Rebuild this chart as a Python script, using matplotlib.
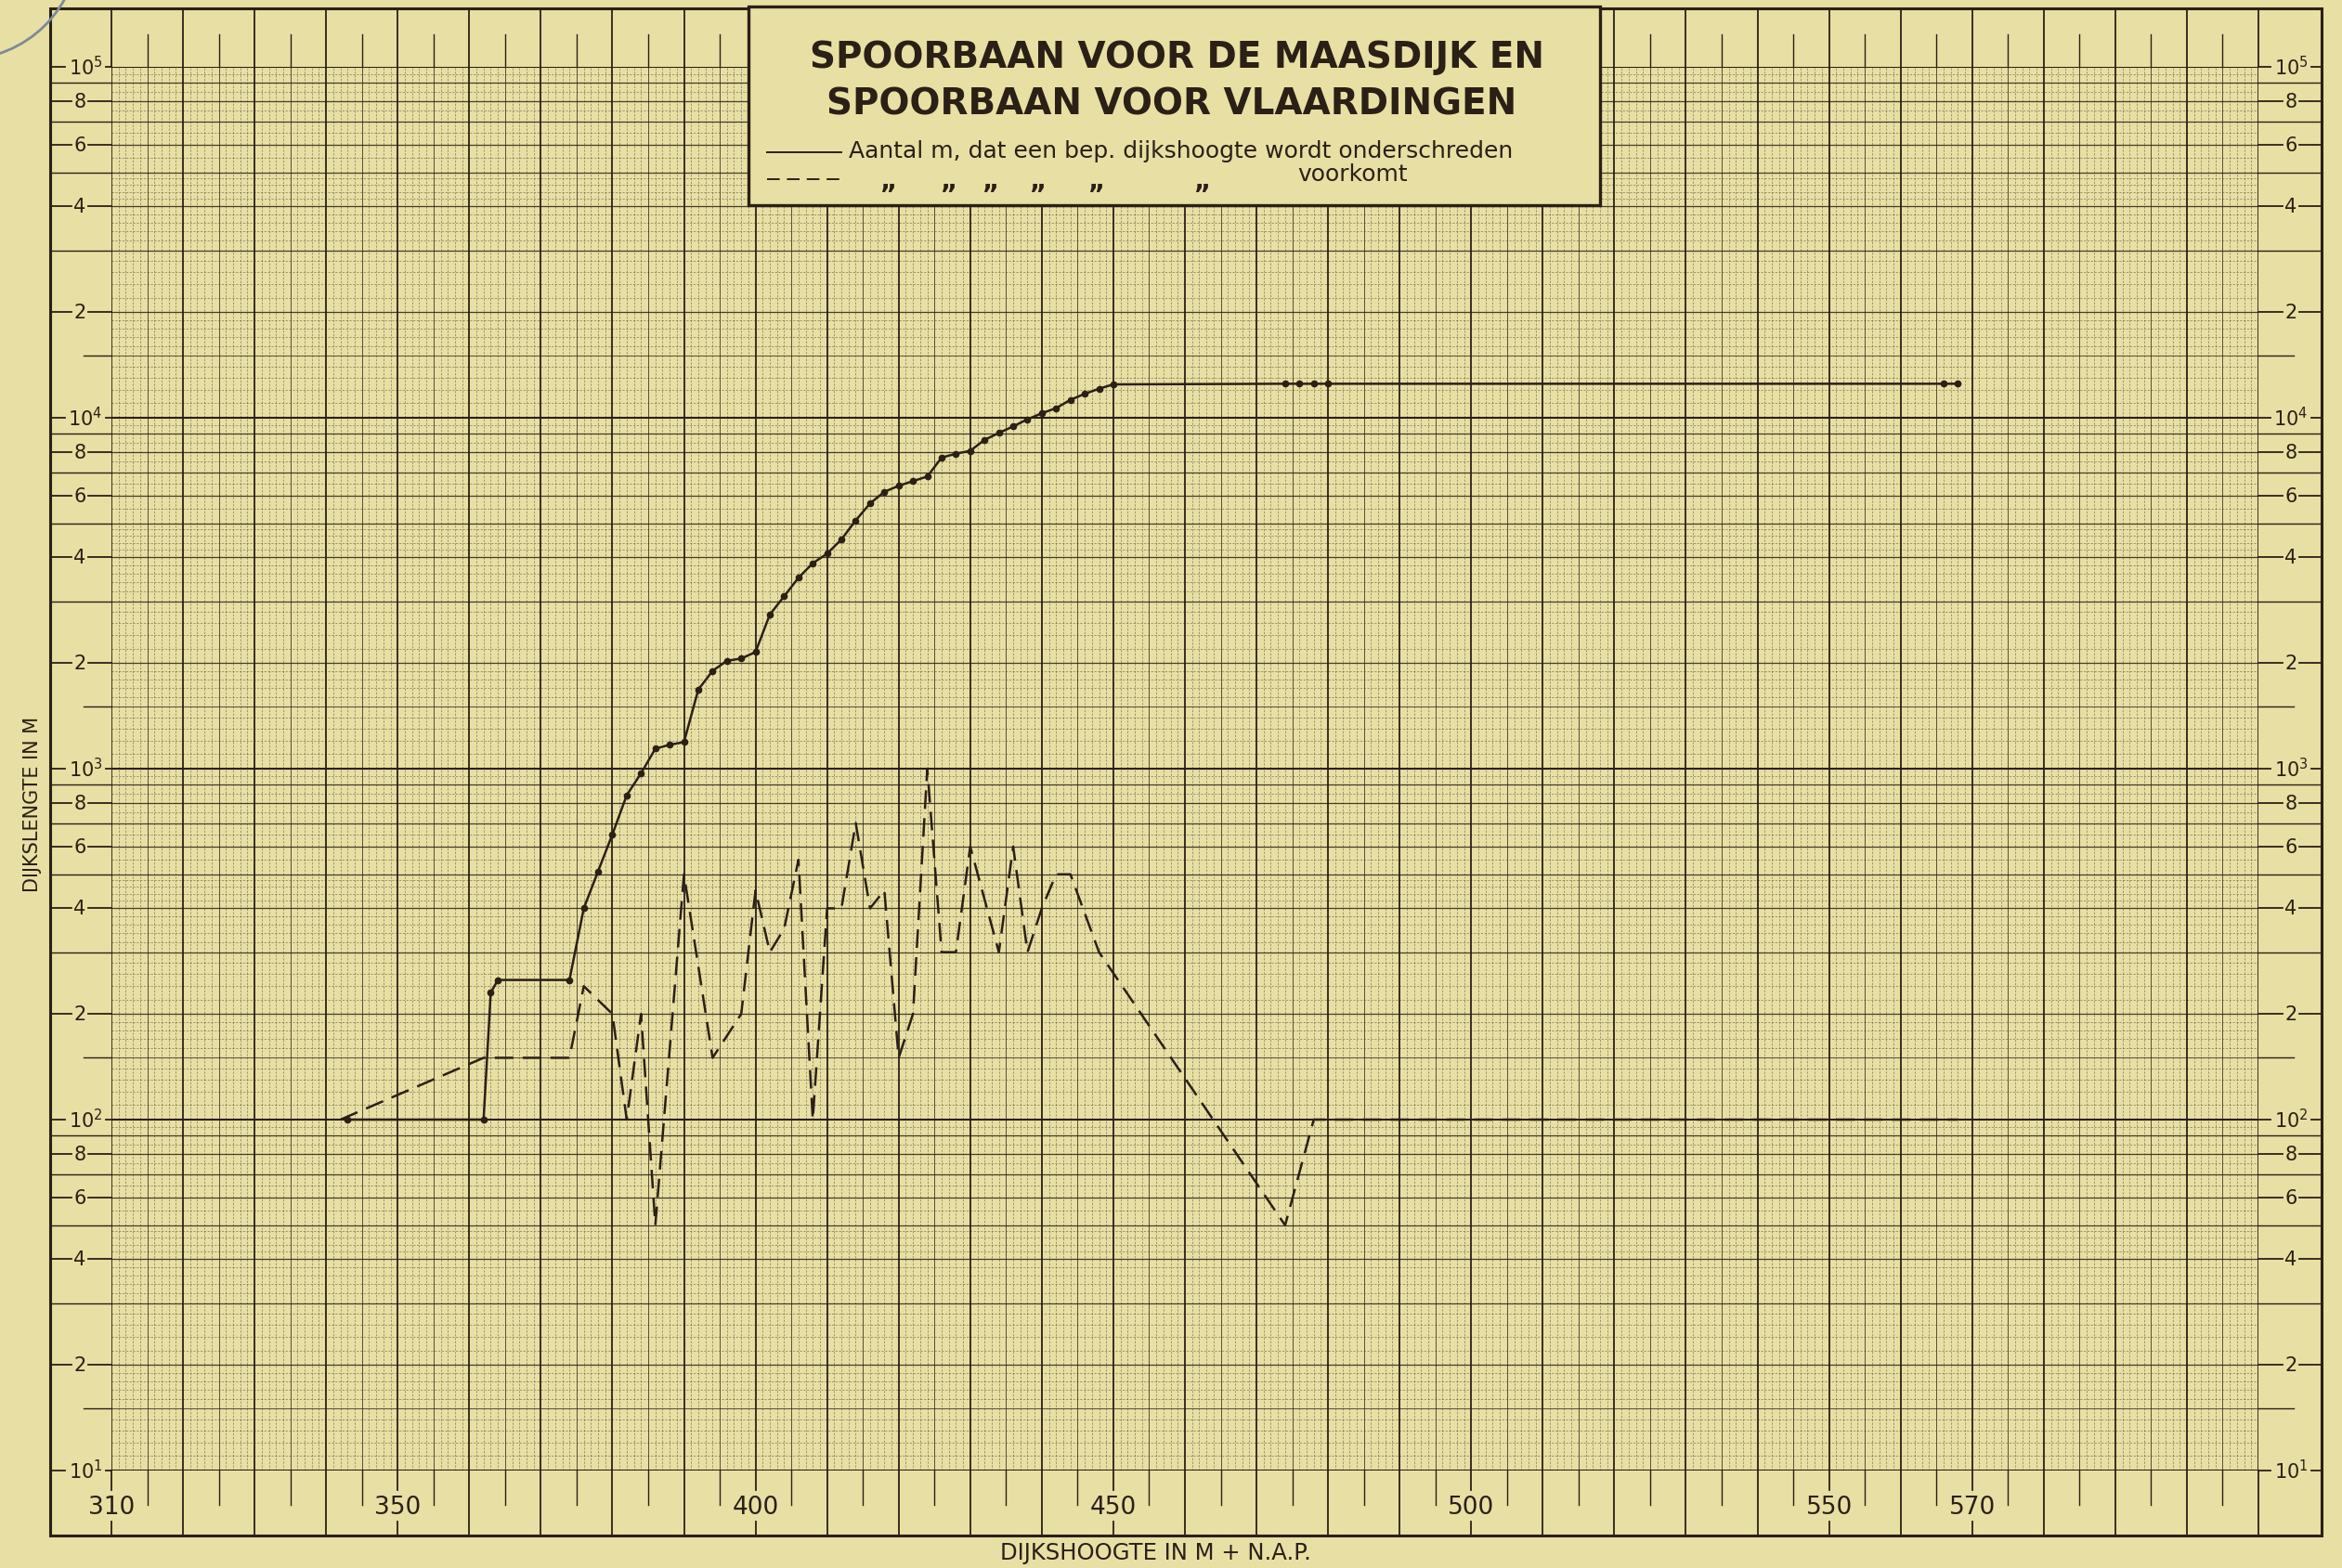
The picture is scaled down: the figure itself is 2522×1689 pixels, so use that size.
import numpy as np
import matplotlib
matplotlib.use("Agg")
import matplotlib.pyplot as plt
from matplotlib import font_manager
from matplotlib.patches import Rectangle, Arc
from matplotlib.lines import Line2D
from matplotlib.transforms import blended_transform_factory

W, H = 2522, 1690
DPI = 100

# --- values --------------------------------------------------------------
# solid: number of metres where a given dike height is not reached
cum_x = [343, 362, 363, 364, 374, 376, 378, 380, 382, 384, 386, 388, 390,
         392, 394, 396, 398, 400, 402, 404, 406, 408, 410, 412, 414, 416,
         418, 420, 422, 424, 426, 428, 430, 432, 434, 436, 438, 440, 442,
         444, 446, 448, 450, 474, 476, 478, 480, 566, 568]
cum_m = [100, 100, 230, 250, 250, 400, 510, 650, 840, 970, 1140, 1170, 1190,
         1680, 1900, 2030, 2060, 2150, 2750, 3100, 3500, 3850, 4100, 4500,
         5100, 5700, 6150, 6400, 6600, 6800, 7700, 7900, 8050, 8650, 9050,
         9450, 9900, 10300, 10650, 11250, 11700, 12100, 12450, 12500, 12500,
         12500, 12500, 12500, 12500]

# dashed: number of metres where a given dike height occurs
freq_x = [342, 362, 374, 376, 380, 382, 384, 386, 390, 394, 398, 400, 402,
          404, 406, 408, 410, 412, 414, 416, 418, 420, 422, 424, 426, 428,
          430, 434, 436, 438, 440, 442, 444, 448, 474, 478, 568]
freq_m = [100, 150, 150, 240, 200, 100, 200, 50, 500, 150, 200, 450, 300,
          350, 550, 100, 400, 400, 700, 400, 450, 150, 200, 1000, 300, 300,
          600, 300, 600, 300, 400, 500, 500, 300, 50, 100, 100]

x_labels = [310, 350, 400, 450, 500, 550, 570]
decades = [10, 100, 1000, 10000, 100000]
y_labelled = [2, 4, 6, 8]
y_plain = [3, 5, 7, 9]

PAPER = "#e8dfa4"
INK = "#2a2016"
GRID = "#3f3426"

names = {f.name for f in font_manager.fontManager.ttflist}
NARROW = "Liberation Sans Narrow" if "Liberation Sans Narrow" in names else "DejaVu Sans"
TITLE_SIZE = 34 if NARROW != "DejaVu Sans" else 28

fig = plt.figure(figsize=(W / DPI, H / DPI), dpi=DPI, facecolor=PAPER)

# grid area: 310 at x=120px, 610 at x=2432px, 1e5 at y=73px, 1e1 at y=1585px
ax = fig.add_axes([120 / W, 1 - 1585 / H, 2312 / W, 1512 / H])
ax.set_facecolor(PAPER)
ax.set_xlim(310, 610)
ax.set_yscale("log")
ax.set_ylim(10, 1e5)
ax.set_axis_off()

def px(X):
    return X / W

def py(Y):
    return 1 - Y / H

yb = blended_transform_factory(fig.transFigure, ax.transData)
xb = blended_transform_factory(ax.transData, fig.transFigure)

# --- graph paper ----------------------------------------------------------
for xv in range(310, 611):
    if xv % 10 == 0:
        ax.axvline(xv, color=INK, lw=1.3, zorder=2)
    elif xv % 5 == 0:
        ax.axvline(xv, color=GRID, lw=0.7, alpha=0.85, zorder=1)
    else:
        ax.axvline(xv, color=GRID, lw=0.55, alpha=0.55, ls=(0, (3, 2)), zorder=1)

for d in decades[:-1]:
    subs = list(np.arange(1.1, 2.0, 0.1)) + list(np.arange(2.2, 5.0, 0.2)) + \
        list(np.arange(5.5, 10.0, 0.5))
    for m in subs:
        if abs(m - round(m)) < 1e-6 or abs(m - 1.5) < 1e-6:
            continue
        ax.axhline(d * m, color=GRID, lw=0.55, alpha=0.55, ls=(0, (3, 2)), zorder=1)
    for m in [2, 3, 4, 5, 6, 7, 8, 9]:
        ax.axhline(d * m, color=INK, lw=0.9, alpha=0.85, zorder=2)
    ax.axhline(d * 1.5, color=INK, lw=0.8, alpha=0.7, zorder=2)
for d in decades:
    ax.axhline(d, color=INK, lw=1.5, zorder=2)

# outer frame of the sheet
fig.add_artist(Rectangle((px(54), py(1655)), px(2500) - px(54), py(10) - py(1655),
                         transform=fig.transFigure, fill=False, ec=INK, lw=2.2,
                         zorder=3))

def seg(x0, x1, y0, y1, tr, lw=1.3):
    ax.add_line(Line2D([x0, x1], [y0, y1], transform=tr, color=INK, lw=lw,
                       clip_on=False, zorder=3))

# left and right margins with the log scale
for d in decades:
    for m in [1, 1.5, 2, 3, 4, 5, 6, 7, 8, 9]:
        v = d * m
        if v > 1e5:
            continue
        if m == 1:
            for lo, hi, cx in [(54, 120, 92), (2432, 2500, 2467)]:
                seg(px(lo), px(cx - 22), v, v, yb)
                seg(px(cx + 22), px(hi), v, v, yb)
                ax.text(px(cx), v, r"$\mathregular{10^{%d}}$" % round(np.log10(v)),
                        transform=yb, ha="center", va="center", fontsize=15,
                        color=INK, family="DejaVu Sans")
        elif m in y_labelled:
            for lo, hi, cx in [(54, 120, 86), (2432, 2500, 2467)]:
                seg(px(lo), px(cx - 9), v, v, yb)
                seg(px(cx + 9), px(hi), v, v, yb)
                ax.text(px(cx), v, str(m), transform=yb, ha="center",
                        va="center", fontsize=15, color=INK, family="DejaVu Sans")
        elif m in y_plain:
            seg(px(54), px(120), v, v, yb, lw=1.0)
            seg(px(2432), px(2500), v, v, yb, lw=1.0)
        else:
            seg(px(90), px(120), v, v, yb, lw=1.0)
            seg(px(2432), px(2470), v, v, yb, lw=1.0)

# top and bottom strips
for xv in range(310, 611, 5):
    if xv % 10 == 0:
        seg(xv, xv, py(73), py(10), xb)
        if xv in x_labels:
            seg(xv, xv, py(1585), py(1606), xb)
            seg(xv, xv, py(1640), py(1655), xb)
            ax.text(xv, py(1624), str(xv), transform=xb, ha="center",
                    va="center", fontsize=19, color=INK, family="DejaVu Sans")
        else:
            seg(xv, xv, py(1585), py(1655), xb)
    else:
        seg(xv, xv, py(73), py(38), xb, lw=1.0)
        seg(xv, xv, py(1585), py(1622), xb, lw=1.0)

# --- the two curves -------------------------------------------------------
ax.plot(freq_x, freq_m, color=INK, lw=1.8, ls=(0, (8, 4)), zorder=6,
        solid_capstyle="butt")
ax.plot(cum_x, cum_m, color=INK, lw=1.8, marker="o", ms=4.5, zorder=7)

# --- title box ------------------------------------------------------------
fig.add_artist(Rectangle((px(806), py(222)), px(1723) - px(806), py(8) - py(222),
                         transform=fig.transFigure, fc=PAPER, ec=INK, lw=2.4,
                         zorder=10))
fig.text(px(1268), py(62), "SPOORBAAN VOOR DE MAASDIJK EN", ha="center",
         va="center", fontsize=TITLE_SIZE, fontweight="bold", family=NARROW,
         color=INK, zorder=11)
fig.text(px(1262), py(113), "SPOORBAAN VOOR VLAARDINGEN", ha="center",
         va="center", fontsize=TITLE_SIZE, fontweight="bold", family=NARROW,
         color=INK, zorder=11)
fig.add_artist(Line2D([px(826), px(906)], [py(165), py(165)],
                      transform=fig.transFigure, color=INK, lw=1.4, zorder=11))
fig.text(px(914), py(163), "Aantal m, dat een bep. dijkshoogte wordt onderschreden",
         ha="left", va="center", fontsize=18, family="DejaVu Sans", color=INK,
         zorder=11)
fig.add_artist(Line2D([px(826), px(908)], [py(194), py(194)],
                      transform=fig.transFigure, color=INK, lw=1.4,
                      ls=(0, (7, 4)), zorder=11))
for X in [957, 1022, 1067, 1118, 1181, 1295]:
    fig.text(px(X), py(196), "\u201e", ha="center", va="center", fontsize=20,
             fontweight="bold", family="DejaVu Sans", color=INK, zorder=11)
fig.text(px(1397), py(188), "voorkomt", ha="left", va="center", fontsize=18,
         family="DejaVu Sans", color=INK, zorder=11)

# axis titles
fig.text(px(35), py(866), "DIJKSLENGTE IN M", rotation=90, ha="center",
         va="center", fontsize=15, family=NARROW, color=INK)
fig.text(px(1244), py(1673), "DIJKSHOOGTE IN M + N.A.P.", ha="center",
         va="center", fontsize=17.5, family=NARROW, color=INK)

# remains of an archive stamp in the corner
fig.add_artist(Arc((px(-40), py(-60)), 250 / W, 250 / H, theta1=270, theta2=360,
                   transform=fig.transFigure, color="#7f8a96", lw=2.0, zorder=4))

fig.savefig("out.png", dpi=DPI, facecolor=PAPER)
